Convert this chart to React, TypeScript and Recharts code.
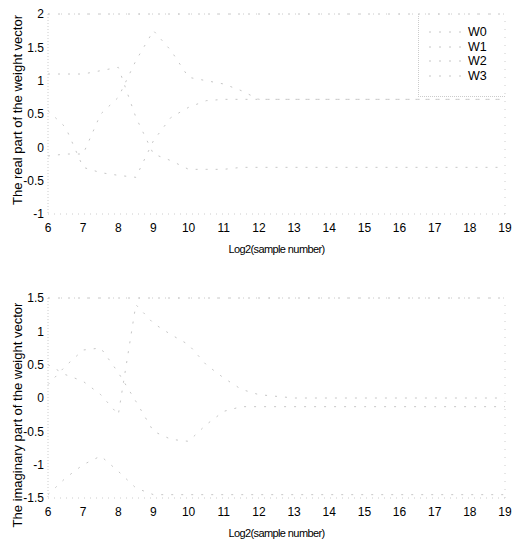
import { LineChart, Line, XAxis, YAxis, ReferenceLine } from 'recharts'

const sampleLog2 = [6, 6.5, 7, 7.5, 8, 8.5, 9, 9.5, 10, 10.5, 11, 11.5, 12, 13, 14, 15, 16, 17, 18, 19]

const realW0 = [2, 2, 2, 2, 2, 2, 2, 2, 2, 2, 2, 2, 2, 2, 2, 2, 2, 2, 2, 2]
const realW1 = [0.55, 0.3, -0.3, -0.38, -0.42, -0.45, 0.1, 0.45, 0.6, 0.7, 0.72, 0.72, 0.72, 0.72, 0.72, 0.72, 0.72, 0.72, 0.72, 0.72]
const realW2 = [-0.13, -0.1, -0.1, 0.5, 0.75, 1.3, 1.75, 1.45, 1.05, 1.0, 0.95, 0.85, 0.72, 0.72, 0.72, 0.72, 0.72, 0.72, 0.72, 0.72]
const realW3 = [1.1, 1.1, 1.1, 1.15, 1.2, 0.45, -0.1, -0.2, -0.33, -0.33, -0.33, -0.3, -0.3, -0.3, -0.3, -0.3, -0.3, -0.3, -0.3, -0.3]

const imagW0 = [1.5, 1.5, 1.5, 1.5, 1.5, 1.5, 1.5, 1.5, 1.5, 1.5, 1.5, 1.5, 1.5, 1.5, 1.5, 1.5, 1.5, 1.5, 1.5, 1.5]
const imagW1 = [0.2, 0.48, 0.72, 0.75, 0.38, -0.05, -0.5, -0.62, -0.65, -0.4, -0.2, -0.13, -0.13, -0.13, -0.13, -0.13, -0.13, -0.13, -0.13, -0.13]
const imagW2 = [0.5, 0.35, 0.25, 0.05, -0.25, 1.4, 1.12, 0.95, 0.8, 0.5, 0.3, 0.13, 0.05, 0, 0, 0, 0, 0, 0, 0]
const imagW3 = [-1.45, -1.2, -1.0, -0.87, -1.1, -1.35, -1.45, -1.45, -1.45, -1.45, -1.45, -1.45, -1.45, -1.45, -1.45, -1.45, -1.45, -1.45, -1.45, -1.45]

const xTicks = [6, 7, 8, 9, 10, 11, 12, 13, 14, 15, 16, 17, 18, 19]
const realTicks = [-1, -0.5, 0, 0.5, 1, 1.5, 2]
const imagTicks = [-1.5, -1, -0.5, 0, 0.5, 1, 1.5]
const seriesNames = ['W0', 'W1', 'W2', 'W3']

const realData = sampleLog2.map((x, i) => ({ x, W0: realW0[i], W1: realW1[i], W2: realW2[i], W3: realW3[i] }))
const imagData = sampleLog2.map((x, i) => ({ x, W0: imagW0[i], W1: imagW1[i], W2: imagW2[i], W3: imagW3[i] }))

const font = '"Liberation Sans", Arial, sans-serif'
const tickStyle = { fontSize: 12, fill: '#000', fontFamily: font }
const lineColor = '#c6c6c6'
const frame = '#cccccc'

// legend drawn as plain html so recharts does not shrink the plot for it
function WeightLegend() {
  return (
    <div style={{ position: 'absolute', left: 418, top: 14, width: 87, height: 83, borderLeft: `1px dotted ${frame}`, borderBottom: `1px dotted ${frame}`, boxSizing: 'border-box', paddingTop: 11 }}>
      {seriesNames.map((name) => (
        <div key={name} style={{ display: 'flex', alignItems: 'center', height: 14.5 }}>
          <svg width={49} height={6}>
            <line x1={10} x2={42} y1={3} y2={3} stroke={lineColor} strokeDasharray="2 8" />
          </svg>
          <span style={{ fontFamily: font, fontSize: 12.5, lineHeight: '14px' }}>{name}</span>
        </div>
      ))}
    </div>
  )
}

function WeightPanel({ data, ticks, domain }: { data: any[]; ticks: number[]; domain: [number, number] }) {
  return (
    <LineChart width={520} height={258} data={data} margin={{ top: 14, right: 15, bottom: 0, left: 0 }}>
      <XAxis
        dataKey="x"
        type="number"
        domain={[6, 19]}
        ticks={xTicks}
        height={44}
        tickLine={false}
        tickSize={0}
        tickMargin={9}
        tick={tickStyle}
        axisLine={{ stroke: frame, strokeDasharray: '1 5' }}
        label={{ value: 'Log2(sample number)', position: 'insideBottom', offset: 5, style: { fontSize: 11, fontFamily: font, fill: '#000', letterSpacing: -0.6 } }}
      />
      <YAxis
        type="number"
        domain={domain}
        ticks={ticks}
        width={48}
        tickLine={false}
        tickSize={0}
        tickMargin={4}
        tick={tickStyle}
        axisLine={{ stroke: frame, strokeDasharray: '1 2' }}
      />
      <ReferenceLine x={19} stroke={frame} strokeDasharray="1 7" />
      <ReferenceLine y={domain[1]} stroke={frame} strokeDasharray="1 12" />
      {seriesNames.map((name) => (
        <Line
          key={name}
          dataKey={name}
          type="linear"
          stroke={lineColor}
          strokeWidth={1}
          strokeDasharray="2 8"
          dot={false}
          isAnimationActive={false}
        />
      ))}
    </LineChart>
  )
}

const yLabelStyle = {
  position: 'absolute' as const,
  left: 18,
  width: 300,
  marginLeft: -150,
  textAlign: 'center' as const,
  transform: 'rotate(-90deg)',
  fontFamily: font,
  fontSize: 13,
  lineHeight: '14px',
  whiteSpace: 'nowrap' as const,
}

export default function App() {
  return (
    <div style={{ position: 'absolute', left: 0, top: 0, width: 520, height: 543, background: '#fff', overflow: 'hidden' }}>
      <div style={{ position: 'absolute', left: 0, top: 0 }}>
        <WeightPanel data={realData} ticks={realTicks} domain={[-1, 2]} />
      </div>
      <WeightLegend />
      <div style={{ position: 'absolute', left: 0, top: 284 }}>
        <WeightPanel data={imagData} ticks={imagTicks} domain={[-1.5, 1.5]} />
      </div>
      <div style={{ ...yLabelStyle, top: 110 - 7 }}>The real part of the weight vector</div>
      <div style={{ ...yLabelStyle, top: 415 - 7 }}>The imaginary part of the weight vector</div>
    </div>
  )
}
